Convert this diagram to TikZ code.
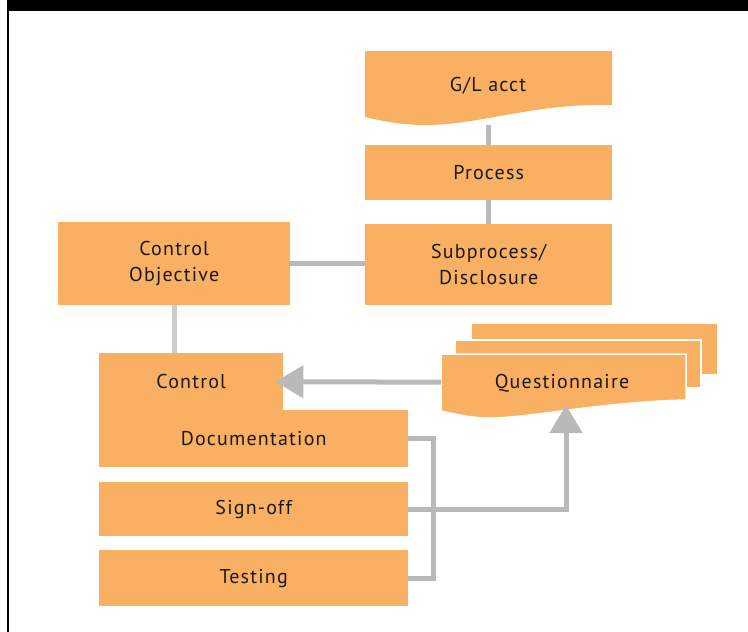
\documentclass[tikz,border=0pt]{standalone}
\usepackage{fontspec}
\setmainfont{PT Sans}[LetterSpace=6]
\usetikzlibrary{arrows.meta}
\definecolor{boxorange}{RGB}{250,176,98}
\definecolor{linegray}{RGB}{185,185,185}
\begin{document}
\begin{tikzpicture}[x=1pt,y=-1pt,
  txt/.style={inner sep=0pt, font=\fontsize{20}{26}\selectfont, align=center, text=black!90},
  box/.style={txt, fill=boxorange, draw=none, anchor=north west},
  conn/.style={draw=linegray, line width=5pt},
  arr/.style={conn, -{Triangle[length=28pt,width=32pt]}}]
\path[use as bounding box] (0,0) rectangle (748,632);
\fill[white] (0,0) rectangle (748,632);
\fill[black] (7,0) rectangle (748,11);
\fill[black] (7,0) rectangle (9,632);

% G/L acct (document shape)
\fill[boxorange] (365,51) -- (612,51) -- (612,105)
  .. controls (530,103) and (480,126) .. (420,125)
  .. controls (395,124) and (378,120) .. (365,117) -- cycle;
\node[txt, minimum width=247pt, minimum height=74pt, anchor=north west] (gl) at (365,51) {};
\node[txt] (gltext) at (488,86) {G/L acct};

% Process, Subprocess
\node[box, minimum width=247pt, minimum height=55pt] (process) at (365,145) {Process};
\node[box, minimum width=247pt, minimum height=81pt] (sub) at (365,224) {Subprocess/\\Disclosure};

% Control Objective
\node[box, minimum width=232pt, minimum height=83pt] (co) at (58,222) {Control\\Objective};

% Control / Documentation
\node[box, minimum width=184pt, minimum height=57pt] (ctrl) at (99,353) {Control};
\node[box, minimum width=309pt, minimum height=57pt] (doc) at (99,410) {Documentation};
\node[box, minimum width=309pt, minimum height=54pt] (signoff) at (99,482) {Sign-off};
\node[box, minimum width=309pt, minimum height=56pt] (testing) at (99,550) {Testing};

% Questionnaire stack
\fill[boxorange] (472,324) rectangle (717,374);
\filldraw[fill=boxorange, draw=white, line width=1.5pt] (455,340) rectangle (701,388);
\filldraw[fill=boxorange, draw=white, line width=1.5pt] (441,354) -- (686,354) -- (686,400)
  .. controls (600,402) and (530,418) .. (490,418)
  .. controls (470,418) and (455,414) .. (441,411) -- cycle;
\node[txt, minimum width=245pt, minimum height=56pt, anchor=north west] (q) at (441,354) {};
\node[txt] (qtext) at (562,383) {Questionnaire};
\coordinate (qin) at (566,405);

% connectors
\draw[conn] (gl.south) -- (process.north);
\draw[conn] (process.south) -- (sub.north);
\draw[conn] (co.east) -- (co.east -| sub.west);
\draw[conn, draw=black!20] (co.south) -- (co.south |- ctrl.north);
\draw[arr, shorten >=-8pt] (q.west) -- (ctrl.east);
\draw[conn] (doc.east) -- ++(25,0) |- (testing.east);
\draw[arr] (signoff.east) -| (qin);
\end{tikzpicture}
\end{document}
